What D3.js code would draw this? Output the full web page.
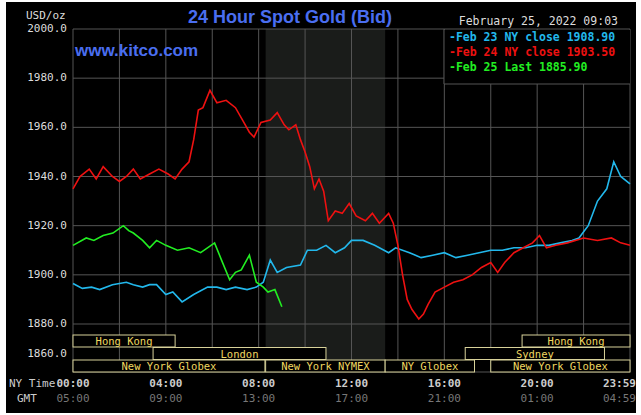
<!DOCTYPE html>
<html lang="en">
<head>
<meta charset="UTF-8">
<script src="https://d3js.org/d3.v7.min.js"></script>
<style>
  body { margin: 0; background: #fff; }
  svg { display: block; }
  .mono { font-family: "DejaVu Sans Mono", monospace; }
</style>
</head>
<body>
<svg width="641" height="415"></svg>
<script>
// hours since 00:00 NY time, price USD/oz
const feb23 = [[0,1896.5],[0.4,1894.5],[0.8,1895],[1.15,1894],[1.7,1896],[2.3,1897],[2.6,1896],[3,1895],[3.3,1896],[3.6,1896],[4,1892],[4.3,1893],[4.7,1889],[5.2,1892],[5.8,1895],[6.2,1895],[6.6,1894],[7,1895],[7.5,1894],[7.9,1895],[8.2,1897],[8.5,1906],[8.8,1901],[9.2,1903],[9.8,1904],[10.1,1910],[10.5,1910],[10.9,1912],[11.3,1909],[11.7,1911],[12,1914],[12.5,1914],[13,1912],[13.6,1909],[13.9,1911],[14.5,1909],[15,1907],[15.5,1908],[16,1909],[16.5,1907],[17,1908],[17.5,1909],[18,1910],[18.5,1910],[19,1911],[19.5,1911],[20,1912],[20.5,1912],[21,1913],[21.5,1914],[21.8,1915],[22.2,1920],[22.6,1930],[23,1935],[23.3,1946],[23.6,1940],[24,1937]];
const feb24 = [[0,1935],[0.3,1940],[0.7,1943],[1,1939],[1.3,1944],[1.7,1940],[2,1938],[2.3,1940],[2.6,1943],[2.9,1939],[3.3,1941],[3.7,1943],[4.1,1941],[4.4,1939],[4.7,1943],[5,1946],[5.2,1955],[5.4,1967],[5.6,1968],[5.9,1975],[6.2,1970],[6.6,1971],[7,1968],[7.3,1963],[7.6,1958],[7.8,1956],[8.1,1962],[8.5,1963],[8.8,1966],[9.1,1961],[9.3,1959],[9.6,1961],[9.8,1955],[10,1950],[10.2,1944],[10.4,1935],[10.6,1939],[10.8,1934],[11,1922],[11.3,1926],[11.6,1925],[11.9,1929],[12.2,1924],[12.6,1922],[12.9,1925],[13.2,1921],[13.6,1925],[13.8,1921],[14.0,1912],[14.2,1900],[14.4,1890],[14.6,1886],[14.9,1882],[15.1,1884],[15.3,1888],[15.6,1893],[16,1895],[16.4,1897],[16.8,1898],[17.2,1900],[17.6,1903],[18,1905],[18.3,1901],[18.6,1905],[19,1909],[19.4,1911],[19.8,1913],[20.1,1916],[20.4,1911],[20.8,1912],[21.3,1913],[22,1915],[22.6,1914],[23.2,1915],[23.6,1913],[24,1912]];
const feb25 = [[0,1912],[0.57,1915],[0.9,1914],[1.3,1916],[1.72,1917],[2.17,1920],[2.4,1918],[2.6,1917],[3,1914],[3.3,1911],[3.6,1914],[4,1912],[4.5,1910],[5,1911],[5.5,1909],[6.1,1913],[6.4,1906],[6.75,1898],[7,1901],[7.25,1902],[7.6,1908],[7.9,1897],[8.2,1895],[8.4,1893],[8.7,1894],[9.0,1887]];
</script>
<script>
const seriesList = [
  { name: "Feb 23 NY close 1908.90", color: "#22b8ec", data: feb23 },
  { name: "Feb 24 NY close 1903.50", color: "#ee1111", data: feb24 },
  { name: "Feb 25 Last 1885.90", color: "#22ee22", data: feb25 }
];
const yTicks = [1880, 1900, 1920, 1940, 1960, 1980, 2000];
const timeNY = ["00:00", "04:00", "08:00", "12:00", "16:00", "20:00", "23:59"];
const timeGMT = ["05:00", "09:00", "13:00", "17:00", "21:00", "01:00", "04:59"];
const sessions = [
  { name: "Hong Kong", row: 0, from: 0, to: 4.4 },
  { name: "Hong Kong", row: 0, from: 19.35, to: 24 },
  { name: "London", row: 1, from: 3.45, to: 10.9 },
  { name: "Sydney", row: 1, from: 16.9, to: 22.9 },
  { name: "New York Globex", row: 2, from: 0, to: 8.27 },
  { name: "New York NYMEX", row: 2, from: 8.3, to: 13.45 },
  { name: "NY Globex", row: 2, from: 13.45, to: 17.3 },
  { name: "New York Globex", row: 2, from: 18, to: 24 }
];

const svg = d3.select("svg");
svg.append("rect").attr("width", 641).attr("height", 415).attr("fill", "#fff");
svg.append("rect").attr("x", 6).attr("y", 2).attr("width", 630).attr("height", 411).attr("fill", "#000");

const pLeft = 73, pRight = 630, pTop = 29, pBottom = 372;
const x = d3.scaleLinear().domain([0, 24]).range([pLeft, pRight]);
const y = d3.scaleLinear().domain([1880, 2000]).range([324, pTop]);

// NYMEX shading
svg.append("rect").attr("x", x(8.3)).attr("y", pTop).attr("width", x(13.45) - x(8.3))
  .attr("height", pBottom - pTop).attr("fill", "#1a1c1a");

const grid = svg.append("g").attr("stroke", "#555").attr("stroke-width", 1);
d3.range(0, 25, 2).forEach(h => grid.append("line").attr("x1", x(h)).attr("x2", x(h)).attr("y1", pTop).attr("y2", pBottom));
yTicks.forEach(v => grid.append("line").attr("x1", pLeft).attr("x2", pRight).attr("y1", y(v)).attr("y2", y(v)));
grid.append("line").attr("x1", pLeft).attr("x2", pRight).attr("y1", pBottom).attr("y2", pBottom);

// legend box
svg.append("rect").attr("x", 444).attr("y", pTop + 1).attr("width", pRight - 444).attr("height", 54).attr("fill", "#000");
svg.append("line").attr("x1", 444).attr("x2", 444).attr("y1", pTop).attr("y2", 84).attr("stroke", "#555");
svg.append("line").attr("x1", 444).attr("x2", pRight).attr("y1", 84).attr("y2", 84).attr("stroke", "#555");

const line = d3.line().x(d => x(d[0])).y(d => y(d[1]));
seriesList.forEach(s => {
  svg.append("path").datum(s.data).attr("d", line).attr("fill", "none")
    .attr("stroke", s.color).attr("stroke-width", 1.6);
});

// sessions
const rowY = [335, 347.5, 360];
sessions.forEach(s => {
  svg.append("rect").attr("x", x(s.from)).attr("y", rowY[s.row]).attr("width", x(s.to) - x(s.from))
    .attr("height", 12).attr("fill", "#000").attr("stroke", "#d8d29a").attr("stroke-width", 1);
  svg.append("text").attr("class", "mono").attr("x", (x(s.from) + x(s.to)) / 2).attr("y", rowY[s.row] + 10)
    .attr("text-anchor", "middle").attr("font-size", 10.5).attr("fill", "#f0d860").text(s.name);
});

// y labels
yTicks.forEach(v => svg.append("text").attr("class", "mono").attr("x", 67).attr("y", y(v) + 3)
  .attr("text-anchor", "end").attr("font-size", 11).attr("fill", "#ddd").text(v.toFixed(1)));
svg.append("text").attr("class", "mono").attr("x", 67).attr("y", 357).attr("text-anchor", "end")
  .attr("font-size", 11).attr("fill", "#ddd").text("1860.0");
svg.append("text").attr("class", "mono").attr("x", 26).attr("y", 19).attr("font-size", 11).attr("fill", "#ddd").text("USD/oz");

// x labels
timeNY.forEach((t, i) => {
  const h = i === 6 ? 24 : i * 4;
  const anchor = i === 6 ? "end" : "middle";
  const xx = i === 6 ? 636 : x(h);
  svg.append("text").attr("class", "mono").attr("x", xx).attr("y", 387).attr("text-anchor", anchor)
    .attr("font-size", 11).attr("font-weight", "bold").attr("fill", "#ccc").text(t);
  svg.append("text").attr("class", "mono").attr("x", xx).attr("y", 402).attr("text-anchor", anchor)
    .attr("font-size", 11).attr("fill", "#777").text(timeGMT[i]);
});
svg.append("text").attr("class", "mono").attr("x", 9).attr("y", 387).attr("font-size", 11).attr("fill", "#ccc").text("NY Time");
svg.append("text").attr("class", "mono").attr("x", 17).attr("y", 402).attr("font-size", 11).attr("fill", "#ccc").text("GMT");

// titles
svg.append("text").attr("x", 290).attr("y", 23).attr("text-anchor", "middle")
  .attr("font-family", "Liberation Sans, Arial, sans-serif").attr("font-size", 18).attr("font-weight", "bold")
  .attr("fill", "#4a6ef0").text("24 Hour Spot Gold (Bid)");
svg.append("text").attr("x", 75).attr("y", 56)
  .attr("font-family", "Liberation Sans, Arial, sans-serif").attr("font-size", 17).attr("font-weight", "bold")
  .attr("fill", "#4a6ef0").text("www.kitco.com");
svg.append("text").attr("class", "mono").attr("x", 618).attr("y", 25).attr("text-anchor", "end")
  .attr("font-size", 11.5).attr("fill", "#ddd").text("February 25, 2022 09:03");
seriesList.forEach((s, i) => {
  svg.append("text").attr("class", "mono").attr("x", 449).attr("y", 41 + i * 15)
    .attr("font-size", 11.5).attr("font-weight", "bold").attr("fill", s.color).text("-" + s.name);
});
</script>
</body>
</html>
